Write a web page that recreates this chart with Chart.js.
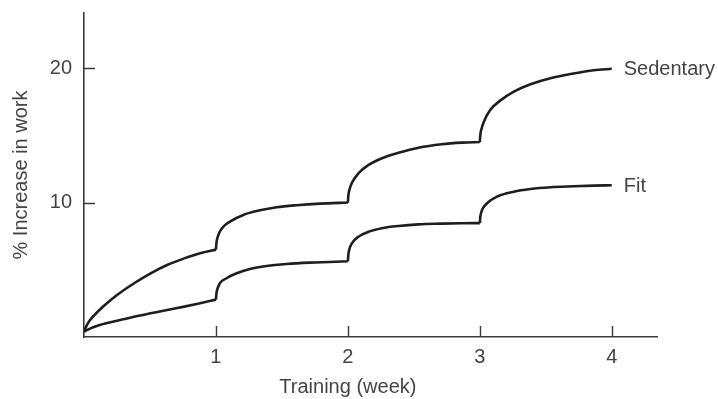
<!DOCTYPE html>
<html>
<head>
<meta charset="utf-8">
<script src="https://cdn.jsdelivr.net/npm/chart.js@4.4.1/dist/chart.umd.min.js"></script>
<style>
  html, body { margin: 0; padding: 0; background: #fff; }
  #wrap { width: 718px; height: 399px; }
</style>
</head>
<body>
<div id="wrap"><canvas id="c" width="718" height="399"></canvas></div>
<script>
// ---- data (null = break between weekly training phases) ----
const seriesNames = ['Sedentary', 'Fit'];
const sedentaryWeeks = [0, 0.02, 0.045, 0.076, 0.15, 0.25, 0.38, 0.505, 0.63, 0.76, 0.88, 1.0,
  1.0,
  1.0, 1.004, 1.012, 1.03, 1.055, 1.106, 1.207, 1.333, 1.46, 1.61, 1.79, 2.0,
  2.0,
  2.0, 2.004, 2.012, 2.03, 2.08, 2.157, 2.258, 2.384, 2.535, 2.71, 2.864, 3.0,
  3.0,
  3.0, 3.004, 3.012, 3.03, 3.08, 3.157, 3.258, 3.384, 3.535, 3.71, 3.864, 4.0];
const sedentaryValues = [0.4, 0.85, 1.25, 1.6, 2.3, 3.12, 4.0, 4.74, 5.36, 5.85, 6.23, 6.5,
  null,
  6.5, 7.0, 7.4, 7.85, 8.2, 8.58, 9.08, 9.42, 9.65, 9.8, 9.92, 10.0,
  null,
  10.0, 10.55, 10.95, 11.45, 12.18, 12.8, 13.3, 13.7, 14.08, 14.34, 14.46, 14.5,
  null,
  14.5, 15.05, 15.45, 16.0, 16.9, 17.6, 18.25, 18.8, 19.25, 19.6, 19.84, 19.95];
const fitWeeks = [0, 0.03, 0.07, 0.126, 0.25, 0.38, 0.505, 0.63, 0.76, 0.88, 1.0,
  1.0,
  1.0, 1.004, 1.012, 1.03, 1.08, 1.157, 1.258, 1.384, 1.535, 1.71, 1.86, 2.0,
  2.0,
  2.0, 2.004, 2.012, 2.03, 2.08, 2.157, 2.258, 2.384, 2.535, 2.71, 2.864, 3.0,
  3.0,
  3.0, 3.004, 3.012, 3.025, 3.055, 3.13, 3.258, 3.384, 3.535, 3.71, 3.864, 4.0];
const fitValues = [0.4, 0.55, 0.72, 0.92, 1.21, 1.51, 1.76, 2.01, 2.26, 2.51, 2.78,
  null,
  2.78, 3.25, 3.6, 4.0, 4.37, 4.74, 5.06, 5.28, 5.43, 5.53, 5.58, 5.63,
  null,
  5.63, 6.15, 6.55, 6.97, 7.46, 7.83, 8.09, 8.26, 8.38, 8.43, 8.46, 8.47,
  null,
  8.47, 8.95, 9.3, 9.6, 9.95, 10.44, 10.81, 11.01, 11.14, 11.21, 11.26, 11.29];
const xTicks = [1, 2, 3, 4];
const yTicks = [10, 20];
const xTitle = 'Training (week)';
const yTitle = '% Increase in work';

// ---- styling ----
const FONT = "'Liberation Sans', Arial, sans-serif";
const TEXT = '#444444';
const LINE = '#1e1e1e';
const AXIS = '#3a3a3a';

const toPts = (xs, ys) => xs.map((x, i) => ({ x: x, y: ys[i] }));

const overlay = {
  id: 'overlay',
  afterDraw(chart) {
    const { ctx, chartArea, scales } = chart;
    const x = scales.x, y = scales.y;
    ctx.save();
    ctx.strokeStyle = AXIS;
    ctx.lineWidth = 1.4;
    ctx.beginPath();
    xTicks.forEach(v => {
      const px = Math.round(x.getPixelForValue(v)) + 0.5;
      ctx.moveTo(px, chartArea.bottom);
      ctx.lineTo(px, chartArea.bottom - 11);
    });
    yTicks.forEach(v => {
      const py = Math.round(y.getPixelForValue(v)) + 0.5;
      ctx.moveTo(chartArea.left, py);
      ctx.lineTo(chartArea.left + 11, py);
    });
    ctx.stroke();

    ctx.fillStyle = TEXT;
    ctx.font = '20px ' + FONT;
    ctx.textAlign = 'left';
    ctx.textBaseline = 'middle';
    chart.data.datasets.forEach((ds, i) => {
      const meta = chart.getDatasetMeta(i);
      const last = meta.data[meta.data.length - 1];
      ctx.fillText(ds.label, last.x + 12, last.y + 1);
    });

    ctx.textAlign = 'center';
    ctx.textBaseline = 'alphabetic';
    const cx = (x.getPixelForValue(0) + x.getPixelForValue(4)) / 2;
    ctx.fillText(xTitle, cx, 393);
    ctx.restore();
  }
};

new Chart(document.getElementById('c'), {
  type: 'line',
  data: {
    datasets: [
      { label: seriesNames[0], data: toPts(sedentaryWeeks, sedentaryValues) },
      { label: seriesNames[1], data: toPts(fitWeeks, fitValues) }
    ]
  },
  options: {
    responsive: false,
    animation: false,
    spanGaps: false,
    layout: { padding: { top: 13, right: 61, left: 0, bottom: 0 } },
    elements: {
      line: { borderColor: LINE, borderWidth: 2.6, cubicInterpolationMode: 'monotone', fill: false, borderJoinStyle: 'round' },
      point: { radius: 0, hoverRadius: 0 }
    },
    plugins: { legend: { display: false }, tooltip: { enabled: false } },
    scales: {
      x: {
        type: 'linear',
        min: 0,
        max: 4.343,
        afterBuildTicks: s => { s.ticks = xTicks.map(v => ({ value: v })); },
        afterFit: s => { s.height = 62; s.paddingLeft = 0; s.paddingRight = 0; },
        ticks: { color: TEXT, font: { family: FONT, size: 20 }, padding: 8, maxRotation: 0 },
        grid: { display: true, drawOnChartArea: false, drawTicks: false },
        border: { display: true, color: AXIS, width: 1.6 }
      },
      y: {
        type: 'linear',
        min: 0,
        max: 24.1,
        afterBuildTicks: s => { s.ticks = yTicks.map(v => ({ value: v })); },
        afterFit: s => { s.width = 84; s.paddingTop = 0; s.paddingBottom = 0; },
        ticks: { color: TEXT, font: { family: FONT, size: 20 }, padding: 12 },
        grid: { display: true, drawOnChartArea: false, drawTicks: false },
        border: { display: true, color: AXIS, width: 1.6 },
        title: { display: true, text: yTitle, color: TEXT, font: { family: FONT, size: 20 }, padding: { top: 9, bottom: 0 } }
      }
    }
  },
  plugins: [overlay]
});
</script>
</body>
</html>
